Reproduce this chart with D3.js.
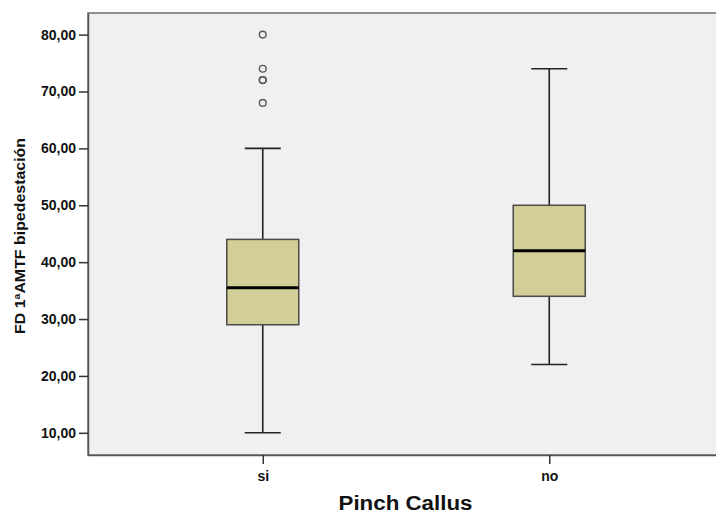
<!DOCTYPE html>
<html>
<head>
<meta charset="utf-8">
<script src="https://cdn.jsdelivr.net/npm/d3@7/dist/d3.min.js"></script>
<style>
  html, body { margin: 0; padding: 0; background: #ffffff; }
  svg { display: block; }
  text { font-family: "Liberation Sans", Arial, sans-serif; font-weight: bold; fill: #111; }
</style>
</head>
<body>
<svg id="chart" width="716" height="513"></svg>
<script>
// Box plot summary per group
const groups = ["si", "no"];
const whiskerLow = [10, 22];
const q1 = [29, 34];
const median = [35.5, 42];
const q3 = [44, 50];
const whiskerHigh = [60, 74];
const outliers = [[68, 72, 72, 74, 80], []];
const yTicks = [10, 20, 30, 40, 50, 60, 70, 80];

const svg = d3.select("#chart");
const plot = { left: 88, top: 13, right: 724, bottom: 455 };

const x = d3.scalePoint().domain(groups).range([plot.left, plot.right]).padding(0.61);
const y = d3.scaleLinear().domain([6.1, 83.8]).range([plot.bottom, plot.top]);

const fmt = v => d3.format(".2f")(v).replace(".", ",");

// plot background
svg.append("rect")
  .attr("x", plot.left).attr("y", plot.top)
  .attr("width", plot.right - plot.left).attr("height", plot.bottom - plot.top)
  .attr("fill", "#f0f0f0")
  .attr("stroke", "#6e6e6e").attr("stroke-width", 1.5);

// y axis
const yAxis = svg.append("g")
  .attr("transform", `translate(${plot.left},0)`)
  .call(d3.axisLeft(y).tickValues(yTicks).tickFormat(fmt).tickSize(9).tickSizeOuter(0).tickPadding(3));
yAxis.select(".domain").attr("stroke", "#555").attr("stroke-width", 1.5);
yAxis.selectAll(".tick line").attr("stroke", "#333").attr("stroke-width", 1.5);
yAxis.selectAll(".tick text")
  .style("font-family", "'Liberation Sans', Arial, sans-serif")
  .style("font-weight", "bold").style("font-size", "14px").attr("fill", "#1a1a1a");

// x axis
const xAxis = svg.append("g")
  .attr("transform", `translate(0,${plot.bottom})`)
  .call(d3.axisBottom(x).tickSize(9).tickSizeOuter(0).tickPadding(7));
xAxis.select(".domain").attr("stroke", "#555").attr("stroke-width", 1.5);
xAxis.selectAll(".tick line").attr("stroke", "#333").attr("stroke-width", 1.5);
xAxis.selectAll(".tick text")
  .style("font-family", "'Liberation Sans', Arial, sans-serif")
  .style("font-weight", "bold").style("font-size", "14px").attr("fill", "#1a1a1a");

// boxes
const boxW = 72, capW = 36;
const g = svg.append("g");
groups.forEach((grp, i) => {
  const cx = x(grp);
  // whiskers
  g.append("line").attr("x1", cx).attr("x2", cx)
    .attr("y1", y(whiskerHigh[i])).attr("y2", y(q3[i]))
    .attr("stroke", "#222").attr("stroke-width", 1.6);
  g.append("line").attr("x1", cx).attr("x2", cx)
    .attr("y1", y(q1[i])).attr("y2", y(whiskerLow[i]))
    .attr("stroke", "#222").attr("stroke-width", 1.6);
  [whiskerHigh[i], whiskerLow[i]].forEach(v => {
    g.append("line").attr("x1", cx - capW / 2).attr("x2", cx + capW / 2)
      .attr("y1", y(v)).attr("y2", y(v))
      .attr("stroke", "#222").attr("stroke-width", 1.6);
  });
  // box
  g.append("rect")
    .attr("x", cx - boxW / 2).attr("y", y(q3[i]))
    .attr("width", boxW).attr("height", y(q1[i]) - y(q3[i]))
    .attr("fill", "#d3ce97").attr("stroke", "#4a4a4a").attr("stroke-width", 1.5);
  // median
  g.append("line").attr("x1", cx - boxW / 2).attr("x2", cx + boxW / 2)
    .attr("y1", y(median[i])).attr("y2", y(median[i]))
    .attr("stroke", "#000").attr("stroke-width", 3);
  // outliers
  outliers[i].forEach(v => {
    g.append("circle").attr("cx", cx).attr("cy", y(v)).attr("r", 3.4)
      .attr("fill", "none").attr("stroke", "#5a5a5a").attr("stroke-width", 1.4);
  });
});

// axis titles
svg.append("text")
  .attr("transform", `translate(25,236) rotate(-90)`)
  .attr("text-anchor", "middle")
  .attr("textLength", 196).attr("lengthAdjust", "spacingAndGlyphs")
  .style("font-size", "14px")
  .text("FD 1ªAMTF bipedestación");

svg.append("text")
  .attr("x", 405.5).attr("y", 509.5)
  .attr("text-anchor", "middle")
  .attr("textLength", 134).attr("lengthAdjust", "spacingAndGlyphs")
  .style("font-size", "19.5px")
  .text("Pinch Callus");
</script>
</body>
</html>
